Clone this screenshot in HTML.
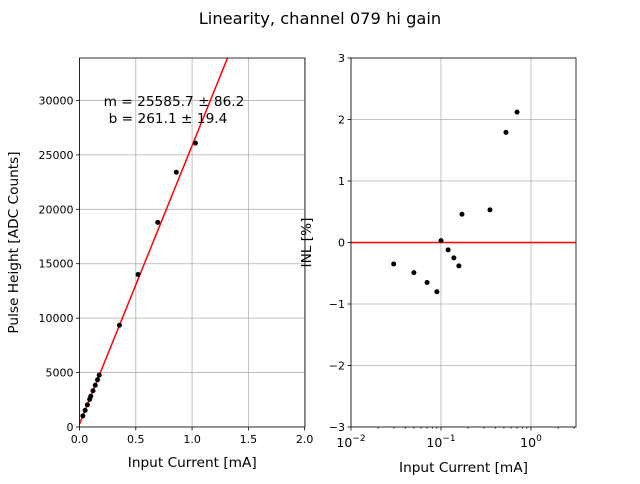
<!DOCTYPE html>
<html><head><meta charset="utf-8"><style>
body{margin:0;background:#fff;font-family:"DejaVu Sans","Liberation Sans",sans-serif}
svg text{font-family:"DejaVu Sans","Liberation Sans",sans-serif;font-size:11px;fill:#000}
</style></head><body>
<svg id="c" width="640" height="480">
<text x="320" y="24" text-anchor="middle" style="font-size:16.3px">Linearity, channel 079 hi gain</text>
<g id="L"></g>
<g id="R"></g>
</svg>
<script>
const currents=[0.03,0.05,0.07,0.09,0.1,0.12,0.14,0.16,0.175,0.355,0.52,0.695,0.86,1.03];
const pulseHeights=[1026,1533,2039,2544,2820,3328,3834,4339,4761,9346,14015,18800,23400,26080];
const inlCurrents=[0.0298,0.05,0.07,0.09,0.1,0.12,0.139,0.158,0.171,0.35,0.527,0.70];
const inlValues=[-0.35,-0.49,-0.65,-0.80,0.03,-0.12,-0.25,-0.38,0.46,0.53,1.79,2.12];
const fitSlope=25585.7, fitIntercept=261.1;
const leftXTicks=[0,0.5,1.0,1.5,2.0];
const leftXTickLabels=["0.0","0.5","1.0","1.5","2.0"];
const leftYTicks=[0,5000,10000,15000,20000,25000,30000];
const rightYTicks=[-3,-2,-1,0,1,2,3];
const rightYTickLabels=["\u22123","\u22122","\u22121","0","1","2","3"];
const rightXTicks=[-2,-1,0];

const NS="http://www.w3.org/2000/svg";
function mk(p,t,a){const e=document.createElementNS(NS,t);for(const k in a)e.setAttribute(k,a[k]);p.appendChild(e);return e;}
const L=document.getElementById('L'),R=document.getElementById('R');
const lx0=79.5,lx1=305,ly0=427,ly1=58,lxmax=2.003,lymax=33900;
const LX=v=>lx0+v/lxmax*(lx1-lx0), LY=v=>ly0-v/lymax*(ly0-ly1);
leftXTicks.forEach((t,i)=>{const x=LX(t);
 let g=mk(L,'line',{x1:x,x2:x,y1:ly1,y2:ly0,stroke:'#b0b0b0','stroke-width':0.8});
 
 mk(L,'line',{x1:x,x2:x,y1:ly0,y2:ly0+3.5,stroke:'#000','stroke-width':0.8});
 let tx=mk(L,'text',{x:x,y:ly0+16,'text-anchor':'middle'});tx.textContent=leftXTickLabels[i];
 });
leftYTicks.forEach(t=>{const y=LY(t);
 let g=mk(L,'line',{x1:lx0,x2:lx1,y1:y,y2:y,stroke:'#b0b0b0','stroke-width':0.8});
 
 mk(L,'line',{x1:lx0-3.5,x2:lx0,y1:y,y2:y,stroke:'#000','stroke-width':0.8});
 let tx=mk(L,'text',{x:lx0-6,y:y+4,'text-anchor':'end'});tx.textContent=String(t);
 });
mk(L,'clipPath',{id:'lc'}).appendChild(document.createElementNS(NS,'rect'));
const cr=document.querySelector('#lc rect');cr.setAttribute('x',lx0);cr.setAttribute('y',ly1);cr.setAttribute('width',lx1-lx0);cr.setAttribute('height',ly0-ly1);
let fl=mk(L,'line',{x1:LX(0),y1:LY(fitIntercept),x2:LX(lxmax),y2:LY(fitSlope*lxmax+fitIntercept),stroke:'red','stroke-width':1.5,'clip-path':'url(#lc)'});

currents.forEach((c,i)=>{let p=mk(L,'circle',{cx:LX(c),cy:LY(pulseHeights[i]),r:2.5,fill:'#000'});
 });
mk(L,'rect',{x:lx0,y:ly1,width:lx1-lx0,height:ly0-ly1,fill:'none',stroke:'#000','stroke-width':0.8});
let t1=mk(L,'text',{x:174,y:106,'text-anchor':'middle',style:'font-size:13.7px'});t1.textContent='m = 25585.7 \u00b1 86.2';

let t2=mk(L,'text',{x:168,y:123,'text-anchor':'middle',style:'font-size:13.7px'});t2.textContent='b = 261.1 \u00b1 19.4';

let xl=mk(L,'text',{x:(lx0+lx1)/2,y:467,'text-anchor':'middle',style:'font-size:13.7px'});xl.textContent='Input Current [mA]';

let yl=mk(L,'text',{x:0,y:0,'text-anchor':'middle',transform:`translate(18,${(ly0+ly1)/2}) rotate(-90)`,style:'font-size:13.7px'});yl.textContent='Pulse Height [ADC Counts]';

const rx0=351,rx1=576,ry0=427,ry1=58,rlmin=-2,rlmax=0.5;
const RX=v=>rx0+(Math.log10(v)-rlmin)/(rlmax-rlmin)*(rx1-rx0), RY=v=>ry0-(v+3)/6*(ry0-ry1);
rightXTicks.forEach(e=>{const x=RX(Math.pow(10,e));
 let g=mk(R,'line',{x1:x,x2:x,y1:ry1,y2:ry0,stroke:'#b0b0b0','stroke-width':0.8});
 
 mk(R,'line',{x1:x,x2:x,y1:ry0,y2:ry0+3.5,stroke:'#000','stroke-width':0.8});
 let tx=mk(R,'text',{x:x,y:ry0+20,'text-anchor':'middle',style:'font-size:12.5px'});
 tx.innerHTML='10<tspan dy="-6" style="font-size:9px">'+(e<0?'\u2212'+(-e):e)+'</tspan>';
 
 for(let k=2;k<10;k++){const v=k*Math.pow(10,e);if(Math.log10(v)>rlmax)break;const xm=RX(v);
  mk(R,'line',{x1:xm,x2:xm,y1:ry0,y2:ry0+2,stroke:'#000','stroke-width':0.6});}});
rightYTicks.forEach((t,i)=>{const y=RY(t);
 let g=mk(R,'line',{x1:rx0,x2:rx1,y1:y,y2:y,stroke:'#b0b0b0','stroke-width':0.8});
 
 mk(R,'line',{x1:rx0-3.5,x2:rx0,y1:y,y2:y,stroke:'#000','stroke-width':0.8});
 let tx=mk(R,'text',{x:rx0-6,y:y+4,'text-anchor':'end'});tx.textContent=rightYTickLabels[i];
 });
let zl=mk(R,'line',{x1:rx0,x2:rx1,y1:RY(0),y2:RY(0),stroke:'red','stroke-width':1.5});

inlCurrents.forEach((c,i)=>{let p=mk(R,'circle',{cx:RX(c),cy:RY(inlValues[i]),r:2.5,fill:'#000'});
 });
mk(R,'rect',{x:rx0,y:ry1,width:rx1-rx0,height:ry0-ry1,fill:'none',stroke:'#000','stroke-width':0.8});
let xr=mk(R,'text',{x:(rx0+rx1)/2,y:472,'text-anchor':'middle',style:'font-size:13.7px'});xr.textContent='Input Current [mA]';

let yr=mk(R,'text',{x:0,y:0,'text-anchor':'middle',transform:`translate(311,${(ry0+ry1)/2}) rotate(-90)`,style:'font-size:13.7px'});yr.textContent='INL [%]';

</script>
</body></html>
